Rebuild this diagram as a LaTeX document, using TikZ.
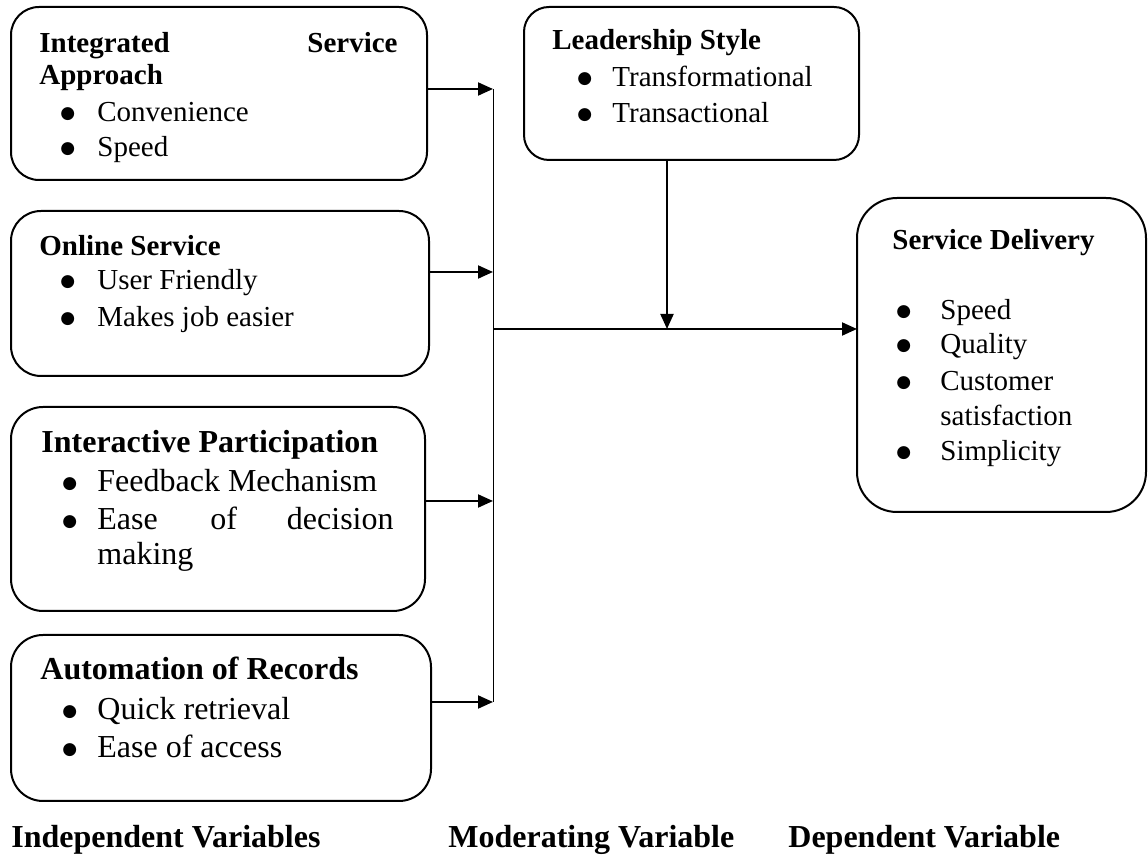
\documentclass[tikz,border=0pt]{standalone}
\usepackage{fontspec}
\setmainfont{Liberation Serif}
\newfontfamily\dejavu{DejaVu Sans}
\usetikzlibrary{arrows.meta}
\newcommand\mybul{\raisebox{1.6pt}{\dejavu\fontsize{8.5}{8.5}\selectfont ●}}
\tikzset{
  x=0.5pt, y=-0.5pt,
  box/.style={draw, line width=1pt, rectangle, outer sep=0pt, inner sep=0pt},
  sm/.style={anchor=base west, inner sep=0pt, font=\fontsize{14.5}{17}\selectfont},
  smb/.style={anchor=base west, inner sep=0pt, font=\fontsize{14.5}{17}\selectfont\bfseries},
  lg/.style={anchor=base west, inner sep=0pt, font=\fontsize{16}{19}\selectfont},
  lgb/.style={anchor=base west, inner sep=0pt, font=\fontsize{16}{19}\selectfont\bfseries},
  conn/.style={line width=1pt, -{Triangle[length=7.5pt,width=6.5pt]}},
  bus/.style={line width=0.5pt},
}
\begin{document}
\begin{tikzpicture}
\useasboundingbox (0,0) rectangle (1148,865);
% boxes
\node[box, rounded corners=14pt, minimum width=208pt, minimum height=86.5pt] (b1) at (219,93.5) {};
\node[box, rounded corners=15pt, minimum width=209pt, minimum height=82.5pt] (b2) at (220,293.5) {};
\node[box, rounded corners=16pt, minimum width=207pt, minimum height=102pt] (b3) at (218,509) {};
\node[box, rounded corners=16pt, minimum width=210pt, minimum height=83pt] (b4) at (221,718) {};
\node[box, rounded corners=12.5pt, minimum width=167.5pt, minimum height=76.5pt] (ls) at (691.5,83.5) {};
\node[box, rounded corners=20pt, minimum width=144.5pt, minimum height=157pt] (sd) at (1001.5,355) {};
% box 1 text
\node[smb] (t11) at (39,53) {Integrated};
\node[smb, anchor=base east] (t12) at (398,53) {Service};
\node[smb] (t13) at (39,85) {Approach};
\node[sm] (u11) at (60,122) {\mybul};
\node[sm] (t14) at (97,122) {Convenience};
\node[sm] (u12) at (60,157) {\mybul};
\node[sm] (t15) at (97,157) {Speed};
% box 2 text
\node[smb] (t21) at (39,256) {Online Service};
\node[sm] (u21) at (60,290) {\mybul};
\node[sm] (t22) at (97,290) {User Friendly};
\node[sm] (u22) at (60,327) {\mybul};
\node[sm] (t23) at (97,327) {Makes job easier};
% box 3 text
\node[lgb] (t31) at (41,453) {Interactive Participation};
\node[lg] (u31) at (62,492) {\mybul};
\node[lg] (t32) at (97,492) {Feedback Mechanism};
\node[lg] (u32) at (62,530) {\mybul};
\node[lg] (t33) at (97,530) {Ease};
\node[lg] (t34) at (210,530) {of};
\node[lg, anchor=base east] (t35) at (394,530) {decision};
\node[lg] (t36) at (97,565) {making};
% box 4 text
\node[lgb] (t41) at (40,680) {Automation of Records};
\node[lg] (u41) at (62,720) {\mybul};
\node[lg] (t42) at (97,720) {Quick retrieval};
\node[lg] (u42) at (62,758) {\mybul};
\node[lg] (t43) at (97,758) {Ease of access};
% leadership text
\node[smb] (t51) at (552,50) {Leadership Style};
\node[sm] (u51) at (577,87) {\mybul};
\node[sm] (t52) at (612,87) {Transformational};
\node[sm] (u52) at (577,123) {\mybul};
\node[sm] (t53) at (612,123) {Transactional};
% service delivery text
\node[smb] (t61) at (892,250) {Service Delivery};
\node[sm] (u61) at (896,320) {\mybul};
\node[sm] (t62) at (940,320) {Speed};
\node[sm] (u62) at (896,354) {\mybul};
\node[sm] (t63) at (940,354) {Quality};
\node[sm] (u63) at (896,391) {\mybul};
\node[sm] (t64) at (940,391) {Customer};
\node[sm] (t65) at (940,426) {satisfaction};
\node[sm] (u64) at (896,461) {\mybul};
\node[sm] (t66) at (940,461) {Simplicity};
% bottom labels
\node[lgb] (l1) at (11,848) {Independent Variables};
\node[lgb] (l2) at (448,848) {Moderating Variable};
\node[lgb] (l3) at (788,848) {Dependent Variable};
% connectors
\coordinate (p1) at (493,89);
\coordinate (p2) at (493,272);
\coordinate (p3) at (493,501);
\coordinate (p4) at (493,702);
\coordinate (j) at (493,329);
\coordinate (m) at (667,329);
\draw[bus] (p1) -- (p4);
\draw[conn] (b1.east |- p1) -- (p1);
\draw[conn] (b2.east |- p2) -- (p2);
\draw[conn] (b3.east |- p3) -- (p3);
\draw[conn] (b4.east |- p4) -- (p4);
\draw[line width=1pt] (j) -- (m);
\draw[conn] (m) -- (sd.west |- m);
\draw[conn] (ls.south -| m) -- (m);
\end{tikzpicture}
\end{document}
